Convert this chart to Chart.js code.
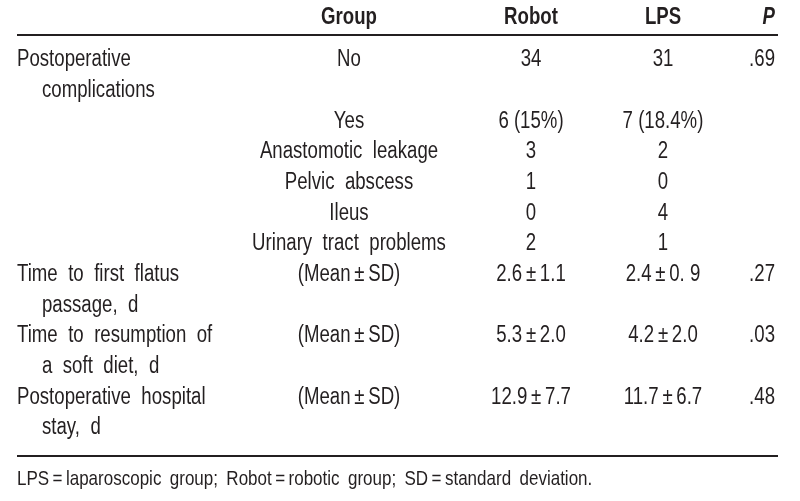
<!DOCTYPE html>
<html>
<head>
<meta charset="utf-8">
<script src="https://cdn.jsdelivr.net/npm/chart.js@4/dist/chart.umd.min.js"></script>
<style>
  html, body { margin: 0; padding: 0; background: #fff; }
  #wrap { width: 800px; height: 501px; }
</style>
</head>
<body>
<div id="wrap"><canvas id="tbl" width="800" height="501"></canvas></div>
<script>
// table content
const headers = ['', 'Group', 'Robot', 'LPS', 'P'];
const measures = [
    ['Postoperative', 'complications'],
    [], [], [], [], [],
    ['Time to first flatus', 'passage, d'],
    ['Time to resumption of', 'a soft diet, d'],
    ['Postoperative hospital', 'stay, d']
];
const groups = ['No', 'Yes', 'Anastomotic leakage', 'Pelvic abscess', 'Ileus', 'Urinary tract problems',
    '(Mean\u2009\u00b1\u2009SD)', '(Mean\u2009\u00b1\u2009SD)', '(Mean\u2009\u00b1\u2009SD)'];
const robot = ['34', '6 (15%)', '3', '1', '0', '2',
    '2.6\u2009\u00b1\u20091.1', '5.3\u2009\u00b1\u20092.0', '12.9\u2009\u00b1\u20097.7'];
const lps = ['31', '7 (18.4%)', '2', '0', '4', '1',
    '2.4\u2009\u00b1\u20090. 9', '4.2\u2009\u00b1\u20092.0', '11.7\u2009\u00b1\u20096.7'];
const pValues = ['.69', '', '', '', '', '', '.27', '.03', '.48'];
const footnote = 'LPS\u2009=\u2009laparoscopic group; Robot\u2009=\u2009robotic group; SD\u2009=\u2009standard deviation.';

// layout
const FONT = '"Liberation Sans", Arial, sans-serif';
const INK = '#231f20';
const SX = 0.81;           // condensed look
const columns = [
    { x: 17, align: 'left', gap: '6.5px' },
    { x: 349, align: 'center', gap: '6.5px' },
    { x: 531, align: 'center', gap: '0px' },
    { x: 663, align: 'center', gap: '0px' },
    { x: 775, align: 'right', gap: '0px' }
];
const INDENT = 25;
const HEADER_LINE = -1.38;
const TOP_RULE = -0.82;
const BOTTOM_RULE = 12.9;
const FOOT_LINE = 13.66;

function squeezed(ctx, txt, px, py, align) {
    ctx.save();
    ctx.translate(px, py);
    ctx.scale(SX, 1);
    ctx.textAlign = align;
    ctx.fillText(txt, 0, 0);
    ctx.restore();
}

const tablePlugin = {
    id: 'tablePlugin',
    afterDraw(chart) {
        const { ctx, scales: { x, y } } = chart;
        ctx.save();
        ctx.fillStyle = INK;
        ctx.strokeStyle = INK;
        ctx.textBaseline = 'middle';

        // header
        ctx.wordSpacing = '0px';
        headers.forEach((h, c) => {
            if (!h) return;
            ctx.font = (h === 'P' ? 'italic ' : '') + 'bold 23px ' + FONT;
            squeezed(ctx, h, x.getPixelForValue(columns[c].x), y.getPixelForValue(HEADER_LINE), columns[c].align);
        });

        // rules
        ctx.lineWidth = 2;
        [TOP_RULE, BOTTOM_RULE].forEach(v => {
            const py = Math.round(y.getPixelForValue(v));
            ctx.beginPath();
            ctx.moveTo(x.getPixelForValue(17), py);
            ctx.lineTo(x.getPixelForValue(778), py);
            ctx.stroke();
        });

        // body
        ctx.font = '23px ' + FONT;
        let line = 0;
        measures.forEach((m, r) => {
            const py = y.getPixelForValue(line);
            ctx.wordSpacing = columns[0].gap;
            m.forEach((txt, k) => {
                squeezed(ctx, txt, x.getPixelForValue(columns[0].x + (k ? INDENT : 0)), y.getPixelForValue(line + k), 'left');
            });
            [groups[r], robot[r], lps[r], pValues[r]].forEach((txt, c) => {
                if (!txt) return;
                const col = columns[c + 1];
                ctx.wordSpacing = col.gap;
                squeezed(ctx, txt, x.getPixelForValue(col.x), py, col.align);
            });
            line += Math.max(1, m.length);
        });

        // footnote
        ctx.font = '21px ' + FONT;
        ctx.wordSpacing = '4.5px';
        squeezed(ctx, footnote, x.getPixelForValue(17), y.getPixelForValue(FOOT_LINE), 'left');
        ctx.restore();
    }
};

new Chart(document.getElementById('tbl'), {
    type: 'scatter',
    data: { datasets: [{ data: [] }] },
    options: {
        responsive: false,
        animation: false,
        layout: { padding: 0 },
        plugins: { legend: { display: false }, tooltip: { enabled: false } },
        scales: {
            x: { type: 'linear', display: false, min: 0, max: 800 },
            y: { type: 'linear', display: false, reverse: true, min: -1.956, max: 14.38 }
        }
    },
    plugins: [tablePlugin]
});
</script>
</body>
</html>
